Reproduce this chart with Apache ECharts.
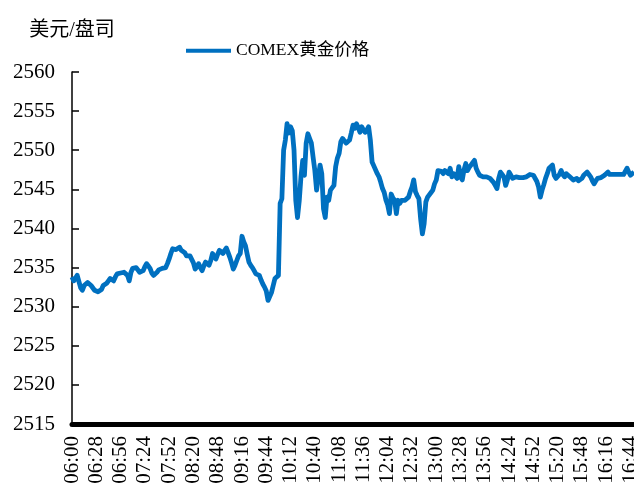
<!DOCTYPE html>
<html>
<head>
<meta charset="utf-8">
<script src="https://cdn.jsdelivr.net/npm/echarts@6/dist/echarts.min.js"></script>
<style>
html,body{margin:0;padding:0;background:#fff;}
#c{width:634px;height:490px;}
</style>
</head>
<body>
<div id="c"></div>
<script>
// 2-minute samples from 06:00 to 16:48
var startTime = '06:00';
var stepMinutes = 2;
var seriesName = 'COMEX黄金价格';
var yAxisName = '美元/盘司';
var yMin = 2515, yMax = 2560, yStep = 5;

var prices = [
2533.8,2533.3,2533.1,2534.0,2533.2,2532.4,2532.1,2532.7,2532.9,2533.1,
2532.9,2532.7,2532.5,2532.1,2532.3,2531.9,2531.7,2532.2,2532.7,2532.9,
2533.0,2533.3,2533.6,2533.4,2533.3,2533.8,2534.2,2534.4,2534.3,2534.2,
2534.4,2534.6,2534.0,2533.3,2534.4,2534.9,2534.8,2535.0,2534.8,2534.4,
2534.5,2534.6,2535.1,2535.5,2535.2,2534.9,2534.3,2534.0,2534.2,2534.4,
2534.7,2534.8,2534.9,2535.0,2535.0,2535.5,2536.1,2536.8,2537.4,2537.2,
2537.3,2537.4,2537.6,2537.2,2537.4,2536.9,2536.5,2536.4,2536.5,2536.3,
2535.6,2534.8,2535.1,2535.5,2535.0,2534.6,2535.2,2535.7,2535.5,2535.3,
2535.9,2536.8,2536.4,2536.1,2536.7,2537.2,2537.0,2536.8,2537.2,2537.5,
2536.9,2536.3,2535.6,2534.8,2535.3,2535.9,2536.5,2536.8,2539.0,2538.3,
2537.8,2536.7,2535.7,2535.3,2535.0,2534.6,2534.2,2534.1,2534.0,2533.4,
2532.9,2532.5,2532.0,2530.8,2531.3,2531.8,2532.7,2533.6,2533.8,2534.0,
2543.2,2543.8,2550.0,2551.3,2553.4,2552.2,2553.0,2552.5,2550.0,2543.6,
2541.4,2543.5,2546.6,2548.7,2546.8,2550.9,2552.1,2551.5,2550.9,2549.1,
2547.4,2544.9,2546.5,2548.1,2547.0,2542.5,2541.4,2544.0,2543.6,2544.9,
2545.1,2545.5,2547.9,2549.0,2549.6,2551.1,2551.5,2551.7,2550.9,2551.1,
2551.3,2552.2,2553.2,2552.8,2553.4,2552.9,2552.3,2553.0,2552.6,2552.3,
2552.6,2553.0,2551.3,2548.5,2548.0,2548.1,2547.0,2546.6,2545.9,2545.1,
2544.6,2543.6,2543.0,2541.9,2544.4,2543.9,2543.6,2541.9,2543.6,2543.2,
2543.6,2543.8,2543.6,2543.4,2544.0,2544.7,2545.3,2546.2,2544.7,2544.2,
2543.8,2541.2,2539.3,2540.6,2543.4,2544.0,2544.2,2544.6,2544.9,2545.7,
2546.2,2547.4,2547.2,2547.3,2547.0,2547.4,2547.2,2547.0,2547.7,2546.6,
2547.0,2547.2,2546.4,2547.9,2546.6,2546.2,2547.5,2548.3,2547.4,2547.8,
2548.1,2548.4,2548.7,2547.7,2547.2,2546.8,2546.7,2546.6,2546.7,2546.6,
2546.5,2546.4,2546.2,2545.9,2545.5,2545.1,2546.4,2547.2,2546.9,2546.6,
2545.5,2546.2,2547.2,2546.8,2546.4,2546.5,2546.6,2546.4,2546.5,2546.6,
2546.5,2546.4,2546.6,2546.8,2546.9,2547.0,2546.8,2546.6,2546.0,2545.3,
2544.0,2544.9,2545.6,2546.4,2547.0,2547.7,2547.9,2548.1,2546.8,2546.4,
2546.2,2546.9,2547.4,2546.9,2546.6,2547.0,2546.8,2546.6,2546.4,2546.2,
2546.3,2546.4,2546.1,2545.9,2546.4,2546.8,2547.0,2547.2,2546.9,2546.6,
2546.1,2545.7,2546.1,2546.4,2546.4,2546.5,2546.7,2546.8,2547.0,2547.2,
2546.9,2546.8,2546.9,2547.0,2546.9,2546.8,2546.9,2547.0,2546.9,2546.8,
2547.7,2547.2,2546.8,2547.0,2547.2
];

function pad(n){return (n<10?'0':'')+n;}
var categories = [];
(function(){
  var p = startTime.split(':');
  var m0 = parseInt(p[0],10)*60 + parseInt(p[1],10);
  for (var i=0;i<prices.length;i++){
    var m = m0 + i*stepMinutes;
    categories.push(pad(Math.floor(m/60)) + ':' + pad(m%60));
  }
})();

var serif = '"Liberation Serif","Times New Roman","Noto Sans CJK SC",serif';
var chart = echarts.init(document.getElementById('c'), null, {renderer:'canvas'});
chart.setOption({
  animation:false,
  backgroundColor:'#fff',
  grid:{left:72, right:0, top:72, bottom:66, containLabel:false, outerBoundsMode:'none'},
  legend:{
    data:[seriesName],
    top:37, left:181,
    icon:'rect', itemWidth:45, itemHeight:4, itemGap:5,
    textStyle:{fontFamily:serif, fontSize:17.5, color:'#000'}
  },
  xAxis:{
    type:'category', data:categories, boundaryGap:false,
    axisLine:{show:true, lineStyle:{color:'#000', width:5}},
    axisTick:{show:false},
    axisLabel:{interval:13, rotate:90, fontFamily:serif, fontSize:21, color:'#000', margin:12, hideOverlap:false},
    splitLine:{show:false}
  },
  yAxis:{
    type:'value', min:yMin, max:yMax, interval:yStep,
    name:yAxisName, nameLocation:'end', nameGap:31,
    nameTextStyle:{fontFamily:serif, fontSize:20, color:'#000', align:'center'},
    axisLine:{show:true, lineStyle:{color:'#000', width:1.5}},
    axisTick:{show:true, inside:true, length:7, lineStyle:{color:'#000', width:1.5}},
    axisLabel:{fontFamily:serif, fontSize:21, color:'#000', margin:17, formatter:function(v){return String(v);}},
    splitLine:{show:false}
  },
  series:[{
    name:seriesName, type:'line', data:prices, showSymbol:false, symbol:'none',
    lineStyle:{color:'#0070C0', width:4.8, join:'round'},
    itemStyle:{color:'#0070C0'}
  }]
});
</script>
</body>
</html>
